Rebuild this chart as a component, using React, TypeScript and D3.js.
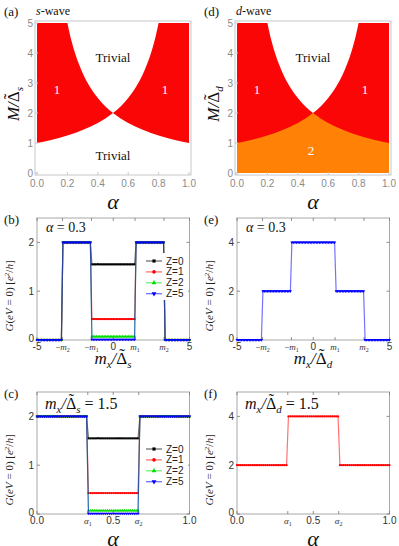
import React from "react";
import * as d3 from "d3";

const W = 399;
const H = 546;

// ---- Phase diagram boundaries (alpha, M/Δ) ----
const lowerAlphaL = [0, 0.1, 0.2, 0.3, 0.4, 0.45, 0.5];
const lowerML = [1, 1.11, 1.25, 1.43, 1.67, 1.82, 2];
const lowerAlphaR = [0.5, 0.55, 0.6, 0.7, 0.8, 0.9, 1];
const lowerMR = [2, 1.82, 1.67, 1.43, 1.25, 1.11, 1];
const upperAlphaL = [0.2, 0.225, 0.25, 0.275, 0.3, 0.35, 0.4, 0.45, 0.5];
const upperML = [5, 4.44, 4, 3.64, 3.33, 2.86, 2.5, 2.22, 2];
const upperAlphaR = [0.5, 0.55, 0.6, 0.65, 0.7, 0.725, 0.75, 0.775, 0.8];
const upperMR = [2, 2.22, 2.5, 2.86, 3.33, 3.64, 4, 4.44, 5];

const phaseXTicks = [0, 0.2, 0.4, 0.6, 0.8, 1.0];
const phaseYTicks = [0, 1, 2, 3, 4, 5];

// ---- Conductance data ----
const zLabels = ["Z=0", "Z=1", "Z=2", "Z=5"];
const zColors = ["#000000", "#ff0000", "#00e000", "#0000ff"];
const zSymbols = [d3.symbolSquare, d3.symbolCircle, d3.symbolTriangle, d3.symbolTriangle];
// s-wave: G inside |m_x|<m1 (and alpha1<alpha<alpha2), band value, outside value
const gInnerS = [1.55, 0.43, 0.07, 0.01];
const gBandS = 2;
const gOuterS = 0;
// d-wave
const gInnerD = 4;
const gBandD = 2;
const gOuterD = 0;
const m1 = 1.43;
const m2 = 3.33;
const alpha1 = 0.333;
const alpha2 = 0.667;

const mxTickVals = [-5, -m2, -m1, 0, m1, m2, 5];
const mxTickLabels = ["-5", "-m2", "-m1", "0", "m1", "m2", "5"];
const alphaTickVals = [0, alpha1, 0.5, alpha2, 1];
const alphaTickLabels = ["0.0", "a1", "0.5", "a2", "1.0"];

const SERIF = "'Liberation Serif', 'Times New Roman', serif";
const SANS = "'Liberation Sans', Arial, sans-serif";

const mxGrid = d3.range(-5, 5.0001, 0.1);
const alphaGrid = d3.range(0, 1.0001, 0.0125);

function gOfMx(mx: number, inner: number, band: number, outer: number) {
  const a = Math.abs(mx);
  if (a < m1) return inner;
  if (a < m2) return band;
  return outer;
}
function gOfAlpha(al: number, inner: number, outer: number) {
  return al > alpha1 && al < alpha2 ? inner : outer;
}

// Δ with a tilde above it, as tspans; fs = font size, sub = subscript letter
function deltaTildeSub(fs: number, sub: string, subFs: number, italicSub = true) {
  const wD = 0.612 * fs;
  const wT = 0.333 * fs;
  const a = (wD + wT) / 2;
  const up = 0.24 * fs;
  return [
    <tspan key="d" fontStyle="normal">Δ</tspan>,
    <tspan key="t" fontStyle="normal" dx={-a} dy={-up}>˜</tspan>,
    <tspan key="s" fontSize={subFs} fontStyle={italicSub ? "italic" : "normal"} dx={a - wT} dy={up + 0.25 * fs}>
      {sub}
    </tspan>,
  ];
}

// ---------- Phase panel ----------
function PhasePanel({ ox, dwave }: { ox: number; dwave: boolean }) {
  const x0 = ox + 37, x1 = ox + 189;
  const y0 = 173, y1 = 23;
  const xs = d3.scaleLinear().domain([0, 1]).range([x0, x1]);
  const ys = d3.scaleLinear().domain([0, 5]).range([y0, y1]);
  const line = d3
    .line<[number, number]>()
    .x((d) => xs(d[0]))
    .y((d) => ys(d[1]))
    .curve(d3.curveMonotoneX);
  const upL = line(upperAlphaL.map((a, i) => [a, upperML[i]] as [number, number]))!;
  const upR = line(upperAlphaR.map((a, i) => [a, upperMR[i]] as [number, number]))!;
  const loL = line(lowerAlphaL.map((a, i) => [a, lowerML[i]] as [number, number]))!;
  const loR = line(lowerAlphaR.map((a, i) => [a, lowerMR[i]] as [number, number]))!;
  const topPath = upL + upR.replace(/^M/, "L") + "Z";
  const lowPath =
    `M${xs(0)},${ys(0)}L` + loL.slice(1) + loR.replace(/^M/, "L") + `L${xs(1)},${ys(0)}Z`;
  const red = "#fb0606";
  const orange = "#ff8207";
  const sub = dwave ? "d" : "s";
  return (
    <g>
      <rect x={x0} y={y1} width={x1 - x0} height={y0 - y1} fill={red} />
      <path d={topPath} fill="#ffffff" />
      <path d={lowPath} fill={dwave ? orange : "#ffffff"} />
      <rect x={x0 - 2} y={y1 - 2} width={x1 - x0 + 4} height={y0 - y1 + 4} fill="none" stroke="#c8c8c8" strokeWidth={1} />
      {phaseXTicks.map((t) => (
        <g key={"x" + t}>
          <line x1={xs(t)} x2={xs(t)} y1={y0 + 2} y2={y0 - 1} stroke="#c8c8c8" />
          <text x={xs(t)} y={187} fontSize={10} fontFamily={SANS} fill="#8a8a8a" textAnchor="middle">
            {t.toFixed(1)}
          </text>
        </g>
      ))}
      {phaseYTicks.map((t) => (
        <g key={"y" + t}>
          <line x1={x0 - 2} x2={x0 + 1} y1={ys(t)} y2={ys(t)} stroke="#c8c8c8" />
          <text x={x0 - 4} y={ys(t) + 3.5} fontSize={10} fontFamily={SANS} fill="#8a8a8a" textAnchor="end">
            {t}
          </text>
        </g>
      ))}
      <text x={xs(0.5)} y={62} fontSize={13} fontFamily={SERIF} textAnchor="middle" fill="#111">Trivial</text>
      {!dwave && (
        <text x={xs(0.5)} y={160} fontSize={13} fontFamily={SERIF} textAnchor="middle" fill="#111">Trivial</text>
      )}
      <text x={ox + 57} y={94} fontSize={13} fontFamily={SERIF} textAnchor="middle" fill="#fff">1</text>
      <text x={ox + 165} y={94} fontSize={13} fontFamily={SERIF} textAnchor="middle" fill="#fff">1</text>
      {dwave && (
        <text x={ox + 111} y={155} fontSize={13} fontFamily={SERIF} textAnchor="middle" fill="#fff">2</text>
      )}
      {/* y label */}
      <g transform={`translate(${ox + 19},104) rotate(-90)`}>
        <text fontSize={17} fontFamily={SERIF} fontStyle="italic" textAnchor="middle" fill="#111">
          <tspan>M/</tspan>
          {deltaTildeSub(17, sub, 11)}
        </text>
      </g>
      {/* x label */}
      <text x={ox + 113} y={209} fontSize={22} fontFamily={SERIF} fontStyle="italic" textAnchor="middle" fill="#111">α</text>
      {/* panel label */}
      <text x={ox + 4} y={16} fontSize={13} fontFamily={SERIF} fill="#111">{dwave ? "(d)" : "(a)"}</text>
      <text x={ox + 36} y={15} fontSize={12} fontFamily={SERIF} fill="#111">
        <tspan fontStyle="italic">{sub}</tspan>-wave
      </text>
    </g>
  );
}

// ---------- tick label with subscript ----------
function TickLab({ x, y, label }: { x: number; y: number; label: string }) {
  if (label.includes("m") || label.startsWith("a")) {
    const neg = label.startsWith("-");
    const core = neg ? label.slice(1) : label;
    const letter = core[0] === "m" ? "m" : "α";
    const idx = core[1];
    return (
      <text x={x} y={y} fontSize={9} fontFamily={SERIF} fill="#333" textAnchor="middle">
        {neg ? "−" : ""}
        <tspan fontStyle="italic">{letter}</tspan>
        <tspan fontSize={6} dy={2}>{idx}</tspan>
      </text>
    );
  }
  return (
    <text x={x} y={y} fontSize={10} fontFamily={SANS} fill="#333" textAnchor="middle">
      {label}
    </text>
  );
}

type Series = { color: string; symbol: d3.SymbolType; rot: number; pts: [number, number][] };

function CondPanel(props: {
  ox: number;
  oy: number; // y pixel of value 0
  ymax: number;
  yTicks: number[];
  xDomain: [number, number];
  xTickVals: number[];
  xTickLabels: string[];
  series: Series[];
  legend: boolean;
  panelLabel: string;
  title: React.ReactNode;
  xLabel: React.ReactNode;
  xLabelSize: number;
  xLabelY: number;
  legendTop: number;
}) {
  const { ox, oy, ymax, yTicks, xDomain, xTickVals, xTickLabels, series, legend, panelLabel, title, xLabel, xLabelSize, xLabelY, legendTop } = props;
  const x0 = ox + 37, x1 = ox + 189.5;
  const top = oy - 122;
  const xs = d3.scaleLinear().domain(xDomain).range([x0, x1]);
  const ys = d3.scaleLinear().domain([0, ymax]).range([oy, top]);
  const line = d3
    .line<[number, number]>()
    .x((d) => xs(d[0]))
    .y((d) => ys(d[1]));
  const frame = "#a8a8a8";
  return (
    <g>
      <rect x={x0} y={top} width={x1 - x0} height={oy - top} fill="#fff" stroke={frame} strokeWidth={1} />
      {xTickVals.map((t, i) => (
        <g key={"xt" + i}>
          <line x1={xs(t)} x2={xs(t)} y1={oy} y2={oy - 3} stroke="#777" strokeWidth={0.8} />
          <line x1={xs(t)} x2={xs(t)} y1={top} y2={top + 3} stroke="#777" strokeWidth={0.8} />
          <TickLab x={xs(t)} y={oy + 10} label={xTickLabels[i]} />
        </g>
      ))}
      {yTicks.map((t) => (
        <g key={"yt" + t}>
          <line x1={x0} x2={x0 + 3} y1={ys(t)} y2={ys(t)} stroke="#777" strokeWidth={0.8} />
          <line x1={x1} x2={x1 - 3} y1={ys(t)} y2={ys(t)} stroke="#777" strokeWidth={0.8} />
          <text x={x0 - 3} y={ys(t) + (t === 0 ? 2 : 3.5)} fontSize={10} fontFamily={SANS} fill="#333" textAnchor="end">
            {t}
          </text>
        </g>
      ))}
      {series.map((s, i) => (
        <g key={"s" + i}>
          <path d={line(s.pts)!} fill="none" stroke={s.color} strokeOpacity={0.55} strokeWidth={1.2} />
          {s.pts.map((p, j) => (
            <path
              key={j}
              d={d3.symbol(s.symbol, 4)()!}
              transform={`translate(${xs(p[0])},${ys(p[1])}) rotate(${s.rot})`}
              fill={s.color}
            />
          ))}
        </g>
      ))}
      {legend && (
        <g>
          <rect x={ox + 142} y={legendTop - 8} width={46} height={47} fill="#fff" />
          {zLabels.map((lab, i) => {
            const yy = legendTop + i * 10.9;
            return (
              <g key={lab}>
                <line x1={ox + 146} x2={ox + 162} y1={yy} y2={yy} stroke={zColors[i]} strokeOpacity={0.6} strokeWidth={1.2} />
                <path
                  d={d3.symbol(zSymbols[i], 10)()!}
                  transform={`translate(${ox + 154},${yy}) rotate(${i === 3 ? 180 : 0})`}
                  fill={zColors[i]}
                />
                <text x={ox + 166} y={yy + 3.5} fontSize={10} fontFamily={SANS} fill="#222">{lab}</text>
              </g>
            );
          })}
        </g>
      )}
      <g transform={`translate(${ox + 13},${oy - 44}) rotate(-90)`}>
        <text fontSize={11} fontFamily={SERIF} textAnchor="middle" fill="#222">
          <tspan fontStyle="italic">G</tspan>(<tspan fontStyle="italic">eV</tspan> = 0) [<tspan fontStyle="italic">e</tspan>
          <tspan fontSize={7} dy={-4}>2</tspan>
          <tspan dy={4}>/</tspan>
          <tspan fontStyle="italic">h</tspan>]
        </text>
      </g>
      <text x={ox + 4} y={top + 6} fontSize={13} fontFamily={SERIF} fill="#111">{panelLabel}</text>
      {title}
      <text x={ox + 113} y={xLabelY} fontSize={xLabelSize} fontFamily={SERIF} fontStyle="italic" textAnchor="middle" fill="#111">
        {xLabel}
      </text>
    </g>
  );
}

function MxLabel({ sub }: { sub: string }) {
  return (
    <>
      <tspan>m</tspan>
      <tspan fontSize={11} dy={4}>x</tspan>
      <tspan dy={-4}>/</tspan>
      {deltaTildeSub(17, sub, 11)}
    </>
  );
}

export default function App() {
  const sSeriesB: Series[] = gInnerS.map((gi, i) => ({
    color: zColors[i],
    symbol: zSymbols[i],
    rot: i === 3 ? 180 : 0,
    pts: mxGrid.map((m) => [m, gOfMx(m, gi, gBandS, gOuterS)] as [number, number]),
  }));
  const sSeriesC: Series[] = gInnerS.map((gi, i) => ({
    color: zColors[i],
    symbol: zSymbols[i],
    rot: i === 3 ? 180 : 0,
    pts: alphaGrid.map((a) => [a, gOfAlpha(a, gi, gBandS)] as [number, number]),
  }));
  const dSeriesE: Series[] = [
    {
      color: "#0000ff",
      symbol: d3.symbolTriangle,
      rot: 180,
      pts: mxGrid.map((m) => [m, gOfMx(m, gInnerD, gBandD, gOuterD)] as [number, number]),
    },
  ];
  const dSeriesF: Series[] = [
    {
      color: "#ff0000",
      symbol: d3.symbolCircle,
      rot: 0,
      pts: alphaGrid.map((a) => [a, gOfAlpha(a, gInnerD, gBandD)] as [number, number]),
    },
  ];

  const alphaTitle = (ox: number) => (
    <text x={ox + 46} y={232} fontSize={14} fontFamily={SERIF} fill="#111">
      <tspan fontStyle="italic">α</tspan> = 0.3
    </text>
  );
  const mxTitle = (ox: number, sub: string) => (
    <text x={ox + 45} y={409} fontSize={16} fontFamily={SERIF} fontStyle="italic" fill="#111">
      <tspan>m</tspan>
      <tspan fontSize={11} dy={4}>x</tspan>
      <tspan dy={-4}>/</tspan>
      {deltaTildeSub(16, sub, 11)}
      <tspan fontStyle="normal" dy={-0.25 * 16}> = 1.5</tspan>
    </text>
  );

  return (
    <svg
      width={W}
      height={H}
      style={{ position: "absolute", left: 0, top: 0, display: "block", background: "#fff" }}
    >
      <rect width={W} height={H} fill="#fff" />
      <PhasePanel ox={0} dwave={false} />
      <PhasePanel ox={200} dwave={true} />
      <CondPanel
        ox={0}
        oy={340}
        ymax={2.5}
        yTicks={[0, 1, 2]}
        xDomain={[-5, 5]}
        xTickVals={mxTickVals}
        xTickLabels={mxTickLabels}
        series={sSeriesB}
        legend={true}
        legendTop={261}
        panelLabel="(b)"
        title={alphaTitle(0)}
        xLabel={<MxLabel sub="s" />}
        xLabelSize={17}
        xLabelY={364}
      />
      <CondPanel
        ox={200}
        oy={340}
        ymax={5}
        yTicks={[0, 2, 4]}
        xDomain={[-5, 5]}
        xTickVals={mxTickVals}
        xTickLabels={mxTickLabels}
        series={dSeriesE}
        legend={false}
        legendTop={261}
        panelLabel="(e)"
        title={alphaTitle(200)}
        xLabel={<MxLabel sub="d" />}
        xLabelSize={17}
        xLabelY={364}
      />
      <CondPanel
        ox={0}
        oy={514}
        ymax={2.5}
        yTicks={[0, 1, 2]}
        xDomain={[0, 1]}
        xTickVals={alphaTickVals}
        xTickLabels={alphaTickLabels}
        series={sSeriesC}
        legend={true}
        legendTop={449}
        panelLabel="(c)"
        title={mxTitle(0, "s")}
        xLabel={"α"}
        xLabelSize={22}
        xLabelY={546}
      />
      <CondPanel
        ox={200}
        oy={514}
        ymax={5}
        yTicks={[0, 2, 4]}
        xDomain={[0, 1]}
        xTickVals={alphaTickVals}
        xTickLabels={alphaTickLabels}
        series={dSeriesF}
        legend={false}
        legendTop={449}
        panelLabel="(f)"
        title={mxTitle(200, "d")}
        xLabel={"α"}
        xLabelSize={22}
        xLabelY={546}
      />
    </svg>
  );
}
